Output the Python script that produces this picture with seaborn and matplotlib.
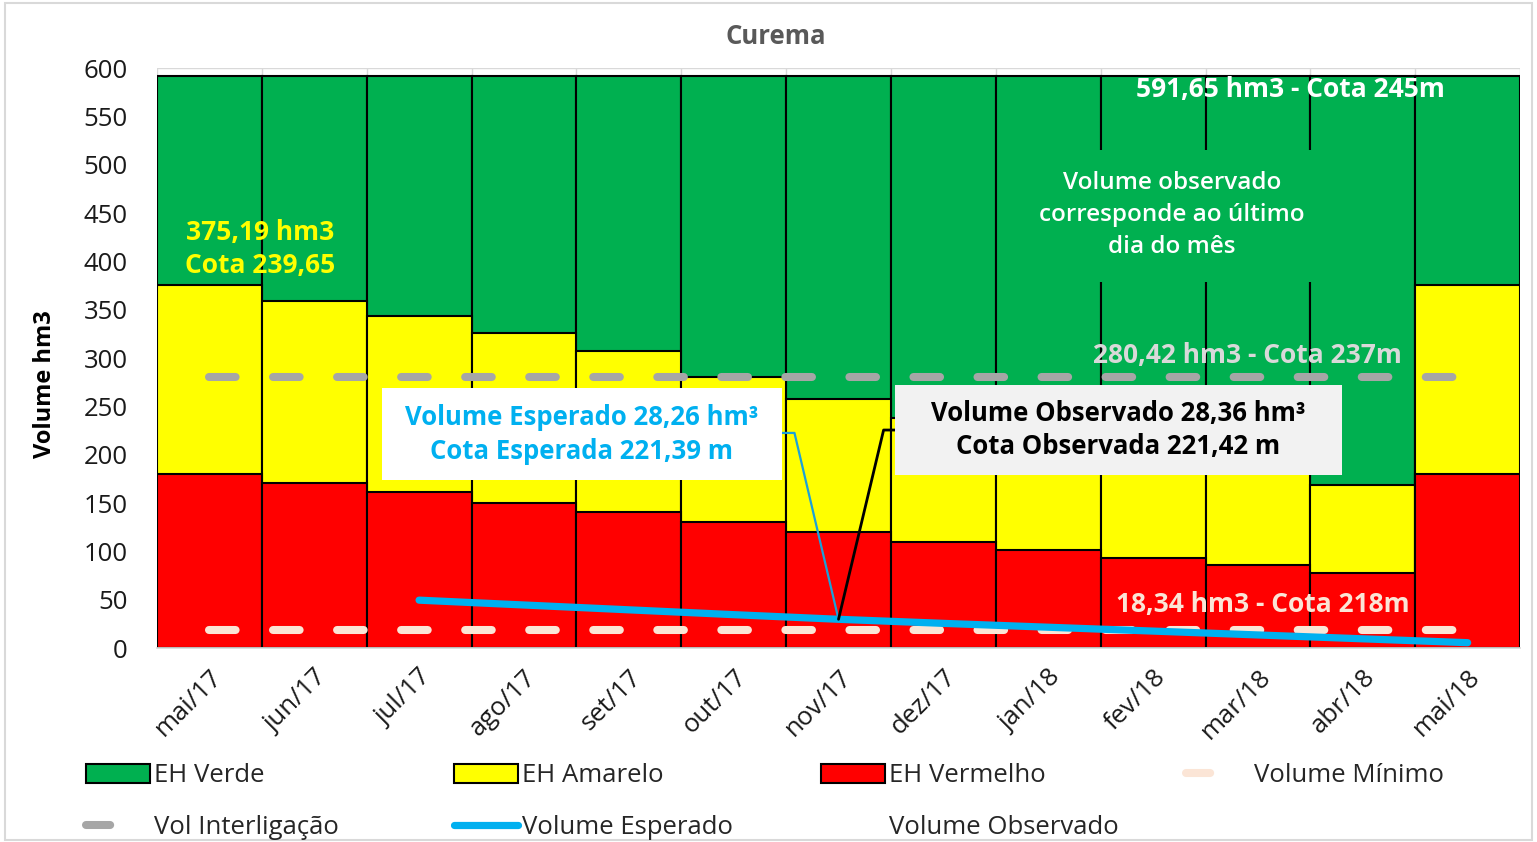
import numpy as np
import pandas as pd
import seaborn as sns
import matplotlib.pyplot as plt
import matplotlib.transforms as mtransforms
from matplotlib.lines import Line2D
from matplotlib.patches import Patch, Rectangle

# dados (hm3)
meses = ["mai/17", "jun/17", "jul/17", "ago/17", "set/17", "out/17", "nov/17",
         "dez/17", "jan/18", "fev/18", "mar/18", "abr/18", "mai/18"]
eh_verde = [591.65] * 13
eh_amarelo = [375.19, 359.5, 343.5, 325.5, 307, 280, 257.5, 238, 221, 204, 186, 168.5, 375.19]
eh_vermelho = [180.5, 171, 161, 150.5, 140.5, 130, 120, 110, 101, 93, 86, 78, 180.5]
vol_esperado = [np.nan, np.nan, 49.5, 44.5, 39.5, 34.5, 29.7, 25.5, 21.5, 17.5, 13.5, 9.5, 5.5]
vol_interligacao = [280.42] * 13
vol_minimo = [18.34] * 13

VERDE, AMARELO, VERMELHO = "#00B050", "#FFFF00", "#FF0000"
AZUL, CINZA, PESSEGO = "#00B0F0", "#A6A6A6", "#FBE5D6"

sns.set_theme(style="white")
plt.rcParams["font.family"] = ["Open Sans", "DejaVu Sans"]

df = pd.DataFrame({"mes": meses, "verde": eh_verde, "amarelo": eh_amarelo,
                   "vermelho": eh_vermelho})
pos = np.arange(len(meses))
linhas = pd.DataFrame({"pos": pos, "esperado": vol_esperado,
                       "interligacao": vol_interligacao, "minimo": vol_minimo})

fig = plt.figure(figsize=(15.37, 8.42), dpi=100)
ax = fig.add_axes([0.1021, 0.2304, 0.8869, 0.6888])

for col, cor in [("verde", VERDE), ("amarelo", AMARELO), ("vermelho", VERMELHO)]:
    sns.barplot(data=df, x="mes", y=col, color=cor, saturation=1, width=1.0,
                edgecolor="black", linewidth=1.5, ax=ax, zorder=2)

tracejado = (0, (3.3, 4.65))
sns.lineplot(data=linhas, x="pos", y="interligacao", color=CINZA, linewidth=5.8,
             linestyle=tracejado, dash_capstyle="round", ax=ax, zorder=3)
sns.lineplot(data=linhas, x="pos", y="minimo", color=PESSEGO, linewidth=5.8,
             linestyle=tracejado, dash_capstyle="round", ax=ax, zorder=3)
esp = linhas.dropna(subset=["esperado"])
sns.lineplot(data=esp, x="pos", y="esperado", color=AZUL, linewidth=5.2,
             solid_capstyle="round", ax=ax, zorder=4)

# linhas de chamada para nov/17
i_nov = meses.index("nov/17")
y_nov = vol_esperado[i_nov]
ax.plot([i_nov, 5.58, 5.46], [y_nov, 222.5, 222.5], color="#1BA1DA", lw=1.6, zorder=5)
ax.plot([i_nov, 6.43, 6.55], [y_nov, 225.5, 225.5], color="black", lw=2.0, zorder=5)

# caixas de texto
ax.add_patch(Rectangle((1.65, 174), 3.81, 95, facecolor="white", edgecolor="none", zorder=5))
ax.add_patch(Rectangle((6.54, 179), 4.26, 93, facecolor="#F2F2F2", edgecolor="none", zorder=5))
ax.add_patch(Rectangle((7.62, 378.6), 3.0, 136.4, facecolor=VERDE, edgecolor="none", zorder=5))

ax.text(3.55, 221, "Volume Esperado 28,26 hm³\nCota Esperada 221,39 m", color=AZUL,
        fontsize=18.5, fontweight="bold", ha="center", va="center", linespacing=1.3, zorder=6)
ax.text(8.67, 225.5, "Volume Observado 28,36 hm³\nCota Observada 221,42 m", color="black",
        fontsize=18.5, fontweight="bold", ha="center", va="center", linespacing=1.3, zorder=6)
ax.text(0.48, 413, "375,19 hm3\nCota 239,65", color=AMARELO, fontsize=19,
        fontweight="bold", ha="center", va="center", linespacing=1.3, zorder=6)
ax.text(10.31, 578, "591,65 hm3 - Cota 245m", color="white", fontsize=19,
        fontweight="bold", ha="center", va="center", zorder=6)
ax.text(9.18, 448, "Volume observado\ncorresponde ao último\ndia do mês", color="white",
        fontsize=17.5, fontweight="semibold", ha="center", va="center", linespacing=1.45,
        zorder=6)
ax.text(9.9, 303, "280,42 hm3 - Cota 237m", color="#D9D9D9", fontsize=19,
        fontweight="bold", ha="center", va="center", zorder=6)
ax.text(10.05, 44.5, "18,34 hm3 - Cota 218m", color=PESSEGO, fontsize=19,
        fontweight="bold", ha="center", va="center", zorder=6)

ax.set_xlim(-0.5, len(meses) - 0.5)
ax.set_ylim(0, 600)
ax.set_yticks(np.arange(0, 601, 50))
ax.set_xticks(pos)
ax.set_xticklabels(meses, rotation=45, ha="right", rotation_mode="anchor", fontsize=18.5)
desloc = mtransforms.ScaledTranslation(-5 / 100, 0, fig.dpi_scale_trans)
for lbl in ax.get_xticklabels():
    lbl.set_transform(lbl.get_transform() + desloc)
ax.set_xticks(np.arange(-0.5, len(meses)), minor=True)
ax.tick_params(axis="y", labelsize=18.5, length=0, pad=21, labelcolor="#1a1a1a")
ax.tick_params(axis="x", length=0, pad=12, labelcolor="#1a1a1a")
ax.grid(axis="y", color="#D9D9D9", lw=1)
ax.grid(axis="x", which="minor", color="#D9D9D9", lw=1)
ax.set_axisbelow(True)
ax.set_xlabel("")
ax.set_ylabel("")
for s in ["left", "right", "top"]:
    ax.spines[s].set_visible(False)
ax.spines["bottom"].set_color("#D9D9D9")

fig.text(0.505, 1 - 37 / 842, "Curema", ha="center", va="center", fontsize=18.5,
         fontweight="bold", color="#595959")
fig.text(0.029, 0.544, "Volume hm3", rotation=90, ha="center", va="center",
         fontsize=17, fontweight="bold", color="black")

# legenda em 4 colunas
def patch(c):
    return Patch(facecolor=c, edgecolor="black", linewidth=1.5)

def traco(c):
    return Line2D([], [], color=c, lw=5.8, linestyle=(0, (3.0, 30)), dash_capstyle="round")

colunas = [
    (85, [patch(VERDE), traco(CINZA)], ["EH Verde", "Vol Interligação"]),
    (453, [patch(AMARELO), Line2D([], [], color=AZUL, lw=5.2, solid_capstyle="round")],
     ["EH Amarelo", "Volume Esperado"]),
    (820, [patch(VERMELHO), Line2D([], [], color="none")], ["EH Vermelho", "Volume Observado"]),
    (1185, [traco(PESSEGO)], ["Volume Mínimo"]),
]
for x, hs, ls in colunas:
    fig.legend(hs, ls, loc="upper left", bbox_to_anchor=(x / 1537 - 0.006, 1 - 753 / 842),
               frameon=False, fontsize=18.5, handlelength=2.5, handleheight=0.75,
               handletextpad=0.15, labelspacing=1.05, borderaxespad=0)

fig.add_artist(Rectangle((0.003, 0.002), 0.994, 0.994, transform=fig.transFigure,
                         fill=False, edgecolor="#D9D9D9", lw=1.5))

fig.savefig("out.png", dpi=100)
